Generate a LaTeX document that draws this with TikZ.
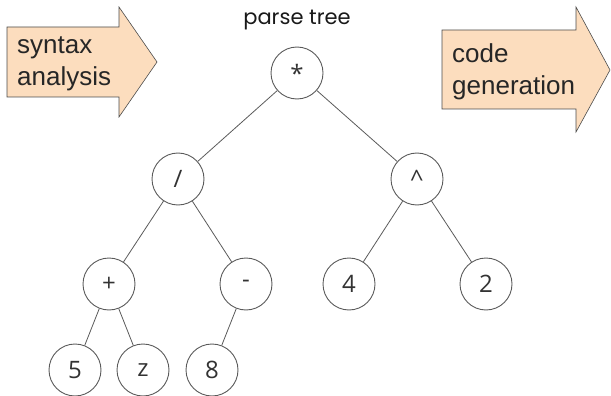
\documentclass[tikz,border=0pt]{standalone}
\usepackage{fontspec}
\setmainfont{Liberation Sans}
\newfontfamily\treefont{Open Sans}
\newfontfamily\titlefont{Poppins}
\usepackage{xcolor}
\definecolor{peach}{HTML}{FCDDBE}
\definecolor{edgegray}{HTML}{5A5A5A}

\begin{document}
\begin{tikzpicture}[x=1pt,y=-1pt,
    tnode/.style={circle,draw=edgegray,line width=0.9pt,minimum size=52pt,
        inner sep=0pt,text=black!80,font=\treefont\fontsize{24}{28}\selectfont},
    tedge/.style={draw=edgegray,line width=0.8pt},
    phase/.style={fill=peach,draw=black!70,line width=0.6pt},
    phasetext/.style={align=left,anchor=west,inner sep=0pt,text=black!85,
        font=\fontsize{26}{32}\selectfont}]
    \useasboundingbox (0,0) rectangle (611,396);
    % phase arrows
    \filldraw[phase] (7,27) -- (119,27) -- (119,7) -- (157,62) -- (119,117)
        -- (119,97) -- (7,97) -- cycle;
    \node[phasetext] (syn) at (17,64) {syntax\\analysis};
    \filldraw[phase] (442,30) -- (576,30) -- (576,7) -- (610,70) -- (576,132)
        -- (576,109) -- (442,109) -- cycle;
    \node[phasetext] (gen) at (452,72) {code\\generation};
    % tree
    \node[font=\titlefont\fontsize{21}{24}\selectfont,text=black!90] (title)
        at (297,20) {parse tree};
    \node[tnode] (mul) at (297,73) {*};
    \node[tnode] (div) at (178,179) {/};
    \node[tnode] (pow) at (417,179) {\textasciicircum};
    \node[tnode] (plus) at (109,284) {+};
    \node[tnode] (minus) at (246,284) {-};
    \node[tnode] (four) at (349,284) {4};
    \node[tnode] (two) at (486,284) {2};
    \node[tnode] (five) at (75,370) {5};
    \node[tnode] (zed) at (143,370) {z};
    \node[tnode] (eight) at (212,370) {8};
    \foreach \a/\b in {mul/div,mul/pow,div/plus,div/minus,pow/four,pow/two,
                       plus/five,plus/zed,minus/eight}
        \draw[tedge] (\a) -- (\b);
\end{tikzpicture}
\end{document}
